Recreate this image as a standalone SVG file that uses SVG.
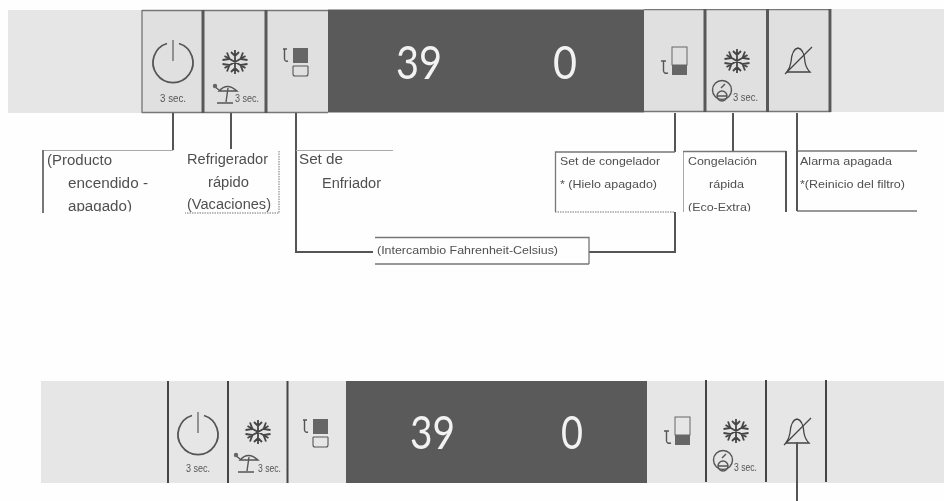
<svg xmlns="http://www.w3.org/2000/svg" xmlns:xlink="http://www.w3.org/1999/xlink" width="944" height="501" viewBox="0 0 944 501">
<style>
text{font-family:"Liberation Sans",Arial,sans-serif;fill:#505050}
.l{font-size:14px}
.s{font-size:11px}
.t{font-size:10px;fill:#555}
.d{font-size:46px;fill:#f2f2f2;font-family:"Lato","Liberation Sans",sans-serif;font-weight:400}
.band{fill:#e6e6e6}
.btn{fill:#e0e0e0}
.dark{fill:#5a5a5a}
.div{stroke:#585858;stroke-width:3;fill:none}
.divb{stroke:#444;stroke-width:2;fill:none}
.edge{stroke:#555;stroke-width:2;fill:none}
.thin{stroke:#aaa;stroke-width:1;fill:none}
.med{stroke:#777;stroke-width:1.3;fill:none}
.dot{stroke:#777;stroke-width:1;stroke-dasharray:1.5 1;fill:none}
.ic{stroke:#555;stroke-width:1.4;fill:none}
.fl{fill:#666;stroke:none}
.ice{stroke:#444;stroke-width:1.8;fill:none}
</style>
<defs>
<filter id="soft" x="0" y="0" width="100%" height="100%"><feGaussianBlur stdDeviation="0.5"/></filter>
<clipPath id="clipL"><rect x="0" y="120" width="944" height="91.5"/></clipPath>
<g id="power"><path d="M-6 -18.500A20 20 0 1 0 6 -18.500" class="ic" style="stroke-width:1.8"/><path d="M0 -22V-1" stroke="#888" stroke-width="1.8" fill="none"/></g>
<g id="flake" class="ice"><path d="M0 -12V12M-10.500 -6L10.500 6M-10.500 6L10.500 -6M-4 -10L0 -6L4 -10M-4 10L0 6L4 10M-12.500 -2L-5.500 -3L-8 -9.500M12.500 -2L5.500 -3L8 -9.500M-12.500 2L-5.500 3L-8 9.500M12.500 2L5.500 3L8 9.500"/></g>
<g id="umbrella" class="ic"><path d="M-5 -3Q3 -12 13 -3Z" style="stroke-width:1.4"/><path d="M4 -6L2 8M-7 9H9M-10 -8L-5 -4" style="stroke-width:1.4"/><circle cx="-9" cy="-8" r="2.200" class="fl"/></g>
<g id="tempUp"><path d="M-9 -14H-5M-7.500 -14V-4Q-7 -1 -4 -2" class="ic"/><rect x="1" y="-15" width="15" height="15" class="fl"/><path d="M1 3H16M1 3V11Q1 13 3 13H14Q16 13 16 11V3" class="ic" style="stroke-width:1.1"/></g>
<g id="tempDown"><rect x="0" y="0" width="15" height="18" fill="none" stroke="#666" stroke-width="1"/><rect x="0" y="18" width="15" height="10" class="fl"/><path d="M-11 14H-6M-8.500 14V24Q-8 27 -4 26" class="ic"/></g>
<g id="eco" class="ic"><circle cx="0" cy="-3" r="9.500"/><circle cx="0" cy="3" r="5"/><path d="M-5 3H5M-1 -5L3 -9"/></g>
<g id="bell" class="ice"><path d="M-11 12H12Q8 8 7 2Q6 -11 0 -12Q-6 -11 -7 2Q-8 8 -11 12Z" style="stroke-width:1.3"/><path d="M-13 14L14 -13" style="stroke-width:1.3"/></g>
</defs>
<rect width="944" height="501" fill="#fefefe"/>
<g filter="url(#soft)">
<g id="panel-top">
<rect class="band" x="8" y="10" width="133" height="103"/>
<rect class="band" x="832" y="9" width="112" height="103"/>
<rect class="btn" x="141" y="10" width="187" height="102"/>
<rect class="btn" x="644" y="9" width="187" height="102"/>
<rect class="dark" x="328" y="9.500" width="316" height="103"/>
<path class="med" d="M142 10.500H328M142 112.500H328M644 9.500H831M644 111.500H831M142 10V113"/>
<path class="div" d="M203 10V113M266 10V113M705 9V112M767.500 9V112M830 9V112"/>
</g>
<g id="panel-bottom">
<rect class="band" x="41" y="381" width="903" height="102"/>
<rect class="dark" x="346" y="381" width="301" height="102"/>
<path class="divb" d="M168 381V483M228 381V483M287.500 381V483M706 380V482M766 380V482M826 380V482"/>
</g>
<g id="btn-power-top"><use xlink:href="#power" href="#power" x="173" y="62"/><text class="t" x="160" y="102" textLength="26" lengthAdjust="spacingAndGlyphs">3 sec.</text></g>
<g id="btn-fast-top"><use href="#flake" x="235" y="62"/><use href="#umbrella" x="224" y="94"/><text class="t" x="235" y="102" textLength="24" lengthAdjust="spacingAndGlyphs">3 sec.</text></g>
<g id="btn-fridge-top"><use href="#tempUp" x="292" y="63"/></g>
<g id="display-top"><text class="d" x="396" y="79" textLength="46" lengthAdjust="spacingAndGlyphs">39</text><text class="d" x="553" y="79" textLength="24" lengthAdjust="spacingAndGlyphs">0</text></g>
<g id="btn-freezer-top"><use href="#tempDown" x="672" y="47"/></g>
<g id="btn-quick-top"><use href="#flake" x="737" y="61"/><use href="#eco" x="722" y="93"/><text class="t" x="733" y="101" textLength="25" lengthAdjust="spacingAndGlyphs">3 sec.</text></g>
<g id="btn-alarm-top"><use href="#bell" x="798" y="60"/></g>

<g id="btn-power-bottom"><use href="#power" x="198" y="434"/><text class="t" x="186" y="472" textLength="24" lengthAdjust="spacingAndGlyphs">3 sec.</text></g>
<g id="btn-fast-bottom"><use href="#flake" x="258" y="432"/><use href="#umbrella" x="245" y="463"/><text class="t" x="258" y="472" textLength="23" lengthAdjust="spacingAndGlyphs">3 sec.</text></g>
<g id="btn-fridge-bottom"><use href="#tempUp" x="312" y="434"/></g>
<g id="display-bottom"><text class="d" x="410" y="449" textLength="45" lengthAdjust="spacingAndGlyphs">39</text><text class="d" x="561" y="449" textLength="22" lengthAdjust="spacingAndGlyphs">0</text></g>
<g id="btn-freezer-bottom"><use href="#tempDown" x="675" y="417"/></g>
<g id="btn-quick-bottom"><use href="#flake" x="736" y="431"/><use href="#eco" x="723" y="463"/><text class="t" x="734" y="471" textLength="23" lengthAdjust="spacingAndGlyphs">3 sec.</text></g>
<g id="btn-alarm-bottom"><use href="#bell" x="797" y="431"/></g>

<g id="connectors">
<path class="edge" d="M173 113V150M231 113V149M296 113V252H373M675 113V152M675 212V252H589M733 113V151.500M797 113V151M797 442V501"/>
</g>

<g id="label-producto">
<path class="thin" d="M43 150.500H173"/><path class="med" style="stroke-width:2" d="M43 150V213"/>
<g clip-path="url(#clipL)"><text class="l" x="47" y="165" textLength="65" lengthAdjust="spacingAndGlyphs">(Producto</text><text class="l" x="68" y="188" textLength="80" lengthAdjust="spacingAndGlyphs">encendido -</text><text class="l" x="68" y="211" textLength="64" lengthAdjust="spacingAndGlyphs">apagado)</text></g>
</g>
<g id="label-refrigerador">
<path class="dot" d="M279 151V213H185"/>
<text class="l" x="187" y="164" textLength="81" lengthAdjust="spacingAndGlyphs">Refrigerador</text><text class="l" x="208" y="187" textLength="41" lengthAdjust="spacingAndGlyphs">rápido</text><text class="l" x="187" y="209" textLength="84" lengthAdjust="spacingAndGlyphs">(Vacaciones)</text>
</g>
<g id="label-enfriador">
<path class="thin" d="M296 150.500H393"/>
<text class="l" x="299" y="164" textLength="44" lengthAdjust="spacingAndGlyphs">Set de</text><text class="l" x="322" y="188" textLength="59" lengthAdjust="spacingAndGlyphs">Enfriador</text>
</g>
<g id="label-intercambio">
<path class="med" d="M375 237.500H589V264M375 264H589"/>
<text class="s" x="377" y="254" textLength="181" lengthAdjust="spacingAndGlyphs">(Intercambio Fahrenheit-Celsius)</text>
</g>
<g id="label-congelador">
<path class="med" d="M675 152H555.500V212"/><path class="dot" d="M555 212H675"/>
<text class="s" x="560" y="165" textLength="100" lengthAdjust="spacingAndGlyphs">Set de congelador</text><text class="s" x="560" y="188" textLength="97" lengthAdjust="spacingAndGlyphs">* (Hielo apagado)</text>
</g>
<g id="label-congelacion">
<path class="thin" d="M683.500 212V151.500"/><path class="med" d="M683 151.500H786"/><path class="edge" d="M786 151V212"/>
<g clip-path="url(#clipL)"><text class="s" x="688" y="165" textLength="69" lengthAdjust="spacingAndGlyphs">Congelación</text><text class="s" x="709" y="188" textLength="35" lengthAdjust="spacingAndGlyphs">rápida</text><text class="s" x="688" y="211" textLength="63" lengthAdjust="spacingAndGlyphs">(Eco-Extra)</text></g>
</g>
<g id="label-alarma">
<path class="med" d="M797 151H917M797 211H917"/><path class="edge" d="M797 151V211"/>
<text class="s" x="800" y="165" textLength="92" lengthAdjust="spacingAndGlyphs">Alarma apagada</text><text class="s" x="800" y="188" textLength="105" lengthAdjust="spacingAndGlyphs">*(Reinicio del filtro)</text>
</g>
</g>
</svg>
